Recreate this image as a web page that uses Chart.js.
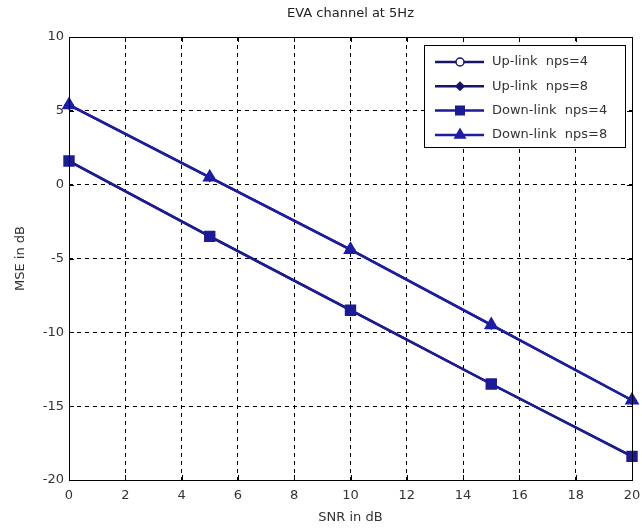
<!DOCTYPE html>
<html><head><meta charset="utf-8">
<script src="https://cdn.jsdelivr.net/npm/chart.js@4"></script>
<style>html,body{margin:0;padding:0;background:#fff}#c{display:block}</style>
</head><body>
<canvas id="c" width="642" height="529"></canvas>
<script>
const snr = [0, 5, 10, 15, 20];
const upNps4 = [1.6, -3.5, -8.5, -13.5, -18.4];
const upNps8 = [5.4, 0.5, -4.4, -9.5, -14.6];
const downNps4 = [1.6, -3.5, -8.5, -13.5, -18.4];
const downNps8 = [5.4, 0.5, -4.4, -9.5, -14.6];
const seriesLabels = ['Up-link  nps=4', 'Up-link  nps=8', 'Down-link  nps=4', 'Down-link  nps=8'];
const xTicks = [0, 2, 4, 6, 8, 10, 12, 14, 16, 18, 20];
const yTicks = [-20, -15, -10, -5, 0, 5, 10];
const chartTitle = 'EVA channel at 5Hz';

const FONT = '"DejaVu Sans", Verdana, sans-serif';
const TXT = '#333';
const styles = [
  {color: '#15156e', point: 'circle', r: 4, fill: '#ffffff'},
  {color: '#15156e', point: 'rectRot', r: 4, fill: '#15156e'},
  {color: '#1b1b96', point: 'rect', r: 7, fill: '#1b1b96'},
  {color: '#1c1ca6', point: 'triangle', r: 7, fill: '#1c1ca6'}
];
const seriesData = [upNps4, upNps8, downNps4, downNps8];

const datasets = seriesData.map((arr, i) => ({
  label: seriesLabels[i],
  data: arr.map((v, j) => ({x: snr[j], y: v})),
  borderColor: styles[i].color,
  backgroundColor: styles[i].fill,
  pointBorderColor: styles[i].color,
  pointBackgroundColor: styles[i].fill,
  pointStyle: styles[i].point,
  pointRadius: styles[i].r,
  pointBorderWidth: 1.5,
  borderWidth: 2.5,
  tension: 0,
  order: 4 - i,
  clip: false
}));

function drawMarker(ctx, style, x, y, r, fill, stroke) {
  ctx.save();
  ctx.fillStyle = fill; ctx.strokeStyle = stroke; ctx.lineWidth = 1.5;
  ctx.beginPath();
  if (style === 'circle') { ctx.arc(x, y, r, 0, Math.PI * 2); }
  else if (style === 'rectRot') { ctx.moveTo(x, y - r); ctx.lineTo(x + r, y); ctx.lineTo(x, y + r); ctx.lineTo(x - r, y); ctx.closePath(); }
  else if (style === 'rect') { const s = Math.SQRT1_2 * r; ctx.rect(x - s, y - s, 2 * s, 2 * s); }
  else if (style === 'triangle') { const a = r; ctx.moveTo(x, y - a); ctx.lineTo(x + a * 0.866, y + a * 0.5); ctx.lineTo(x - a * 0.866, y + a * 0.5); ctx.closePath(); }
  ctx.fill(); ctx.stroke();
  ctx.restore();
}

const framePlugin = {
  id: 'frame',
  afterDraw(chart) {
    const ctx = chart.ctx, a = chart.chartArea;
    const xs = chart.scales.x, ys = chart.scales.y;
    ctx.save();
    // title centred over the axes
    ctx.fillStyle = '#222';
    ctx.font = '13px ' + FONT;
    ctx.textAlign = 'center'; ctx.textBaseline = 'middle';
    ctx.fillText(chartTitle, (a.left + a.right) / 2, 14);

    ctx.strokeStyle = '#000'; ctx.lineWidth = 1;
    ctx.strokeRect(Math.round(a.left) + 0.5, Math.round(a.top) + 0.5, Math.round(a.right - a.left), Math.round(a.bottom - a.top));
    ctx.beginPath();
    xTicks.forEach(v => {
      const px = Math.round(xs.getPixelForValue(v)) + 0.5;
      ctx.moveTo(px, a.bottom); ctx.lineTo(px, a.bottom - 5);
      ctx.moveTo(px, a.top); ctx.lineTo(px, a.top + 5);
    });
    yTicks.forEach(v => {
      const py = Math.round(ys.getPixelForValue(v)) + 0.5;
      ctx.moveTo(a.left, py); ctx.lineTo(a.left + 5, py);
      ctx.moveTo(a.right, py); ctx.lineTo(a.right - 5, py);
    });
    ctx.stroke();

    // legend
    const bx = 424, by = 45, bw = 201, bh = 102;
    ctx.fillStyle = '#fff';
    ctx.fillRect(bx, by, bw, bh);
    ctx.strokeRect(bx + 0.5, by + 0.5, bw, bh);
    ctx.font = '13px ' + FONT;
    ctx.textBaseline = 'middle';
    ctx.textAlign = 'left';
    seriesLabels.forEach((lab, i) => {
      const yy = by + 17 + i * 24.3;
      ctx.strokeStyle = styles[i].color; ctx.lineWidth = 2.5;
      ctx.beginPath(); ctx.moveTo(435, yy); ctx.lineTo(484, yy); ctx.stroke();
      drawMarker(ctx, styles[i].point, 460, yy, i >= 2 ? 6 : 4, styles[i].fill, styles[i].color);
      ctx.fillStyle = TXT;
      ctx.fillText(lab, 492, yy);
    });
    ctx.restore();
  }
};

new Chart(document.getElementById('c'), {
  type: 'line',
  data: {datasets},
  options: {
    responsive: false,
    animation: false,
    layout: {padding: {left: 0, right: 0, top: 37, bottom: 0}},
    plugins: {
      legend: {display: false},
      tooltip: {enabled: false},
      title: {display: false}
    },
    scales: {
      x: {
        type: 'linear', min: 0, max: 20,
        afterFit(s) { s.height = 49; s.paddingRight = 10; s.paddingLeft = 0; },
        afterBuildTicks(s) { s.ticks = xTicks.map(v => ({value: v})); },
        ticks: {color: TXT, font: {family: FONT, size: 13}, padding: 8, maxRotation: 0, autoSkip: false},
        grid: {color: '#000', lineWidth: 1, drawTicks: false},
        border: {display: false, dash: [4, 4]},
        title: {display: true, text: 'SNR in dB', color: TXT, font: {family: FONT, size: 13}, padding: {top: 4, bottom: 4}}
      },
      y: {
        type: 'linear', min: -20, max: 10,
        afterFit(s) { s.width = 69; s.paddingTop = 0; s.paddingBottom = 0; },
        afterBuildTicks(s) { s.ticks = yTicks.map(v => ({value: v})); },
        ticks: {color: TXT, font: {family: FONT, size: 13}, padding: 5, autoSkip: false},
        grid: {color: '#000', lineWidth: 1, drawTicks: false},
        border: {display: false, dash: [4, 4]},
        title: {display: true, text: 'MSE in dB', color: TXT, font: {family: FONT, size: 13}, padding: {top: 13, bottom: 2}}
      }
    }
  },
  plugins: [framePlugin]
});
</script>
</body></html>
